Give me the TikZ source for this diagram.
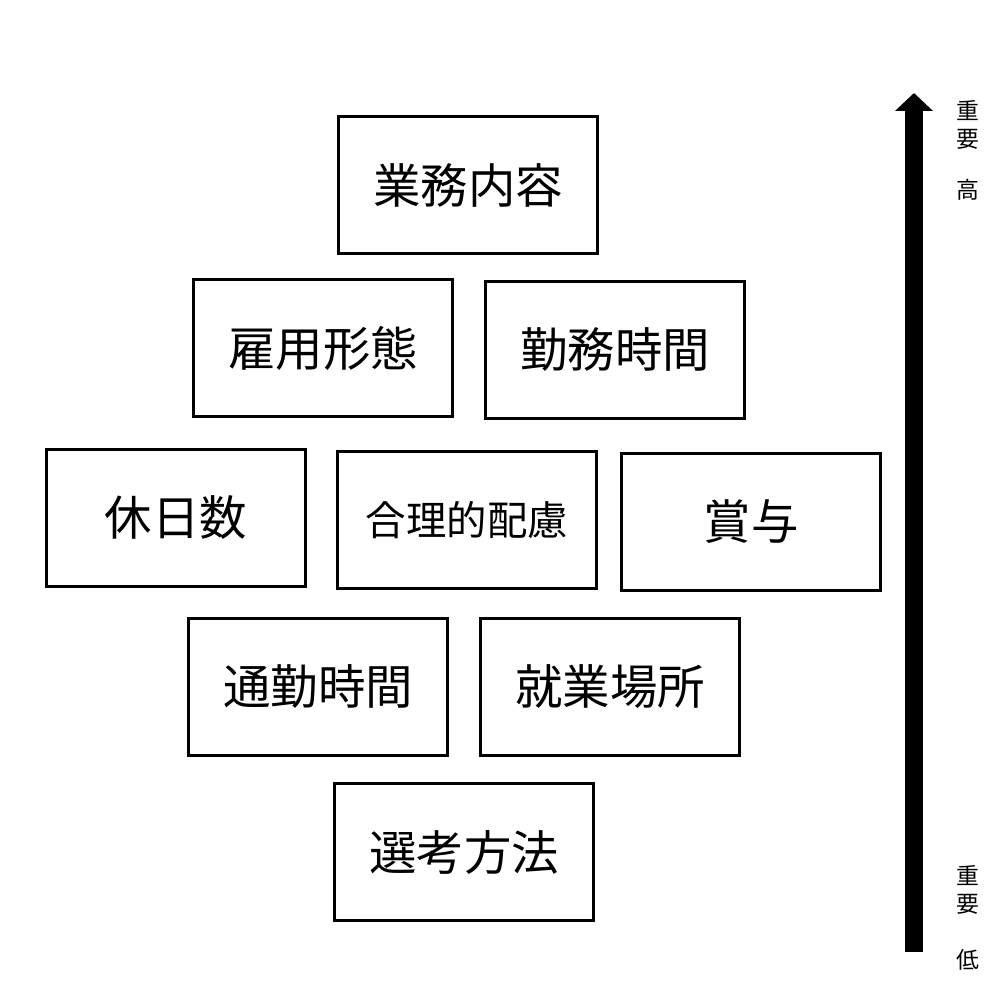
\documentclass[tikz,border=0pt]{standalone}
\usepackage{fontspec}
\setmainfont{Noto Sans CJK JP}
\usetikzlibrary{arrows.meta}
\begin{document}
\begin{tikzpicture}[
            x=0.02cm, y=-0.02cm,
            item/.style={draw, line width=1.7pt, minimum width=5.18cm, minimum height=2.74cm,
                inner sep=0pt, font=\fontsize{27}{30}\selectfont},
            small item/.style={item, font=\fontsize{23}{26}\selectfont},
            side/.style={align=center, inner sep=0pt, font=\fontsize{13}{15.9}\selectfont}
        ]
            \useasboundingbox (0,0) rectangle (1000,1000);
            % boxes, top to bottom
            \node[item] (gyomu) at (468,185) {業務内容};
            \node[item] (koyo) at (323,348) {雇用形態};
            \node[item] (kinmu) at (615,350) {勤務時間};
            \node[item] (kyujitsu) at (176,518) {休日数};
            \node[small item] (hairyo) at (467,520) {合理的配慮};
            \node[item] (shoyo) at (751,522) {賞与};
            \node[item] (tsukin) at (318,687) {通勤時間};
            \node[item] (basho) at (610,687) {就業場所};
            \node[item] (senko) at (464,852) {選考方法};
            % importance scale
            \coordinate (lo) at (914,952);
            \coordinate (hi) at (914,93);
            \draw[line width=0.36cm, -{Triangle[width=0.74cm, length=0.36cm]}] (lo) -- (hi);
            \node[side] (hiimp) at (968,125) {重\\要};
            \node[side] (hilv) at (968,190) {高};
            \node[side] (loimp) at (968,890) {重\\要};
            \node[side] (lolv) at (968,960) {低};
        \end{tikzpicture}
\end{document}
